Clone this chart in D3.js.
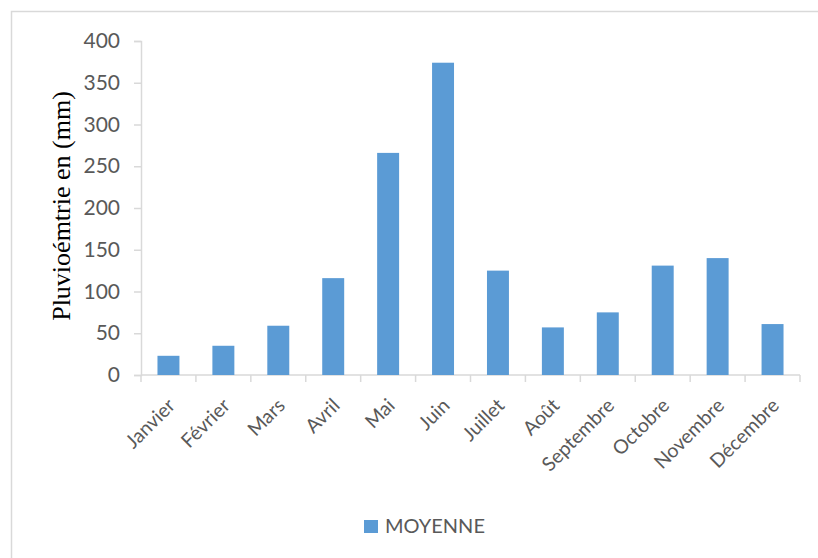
<!DOCTYPE html>
<html>
<head>
<meta charset="utf-8">
<script src="https://cdn.jsdelivr.net/npm/d3@7"></script>
<style>
  body { margin: 0; background: #fff; }
</style>
</head>
<body>
<div id="chart"></div>
<script>
const months = ["Janvier", "Février", "Mars", "Avril", "Mai", "Juin", "Juillet", "Août", "Septembre", "Octobre", "Novembre", "Décembre"];
const moyenne = [23, 35, 59, 116, 266, 374, 125, 57, 75, 131, 140, 61];
const yTicks = [0, 50, 100, 150, 200, 250, 300, 350, 400];
const seriesName = "MOYENNE";
const yLabel = "Pluvioémtrie en (mm)";

const W = 818, H = 558;
const margin = {top: 41, right: 18, bottom: 183, left: 141};
const width = W - margin.left - margin.right;
const height = H - margin.top - margin.bottom;
const barColor = "#5b9bd5";
const gridColor = "#d9d9d9";
const textColor = "#595959";
const sansFont = "Lato, Carlito, Calibri, sans-serif";

const svg = d3.select("#chart").append("svg")
    .attr("width", W)
    .attr("height", H);

// outer chart frame
svg.append("rect")
    .attr("x", 11.5).attr("y", 11.5)
    .attr("width", W + 10).attr("height", H + 10)
    .attr("fill", "none")
    .attr("stroke", gridColor)
    .attr("stroke-width", 1.5);

const g = svg.append("g")
    .attr("transform", "translate(" + margin.left + "," + margin.top + ")");

let xScale = d3.scaleBand().domain(months).range([0, width]).paddingInner(0.6).paddingOuter(0.3);
let yScale = d3.scaleLinear().domain([0, 400]).range([height, 0]);

// y axis
let yAxis = d3.axisLeft(yScale).tickValues(yTicks).tickSize(7).tickPadding(14);
let yG = g.append("g").attr("class", "y axis").call(yAxis);
yG.select(".domain").attr("stroke", gridColor).attr("stroke-width", 1.5);
yG.selectAll(".tick line").attr("stroke", gridColor).attr("stroke-width", 1.5);
yG.selectAll(".tick text")
    .attr("fill", textColor)
    .style("font-family", sansFont)
    .style("font-size", "21px");

// x axis: line + category boundary ticks
let xG = g.append("g").attr("class", "x axis")
    .attr("transform", "translate(0," + height + ")");
xG.append("line")
    .attr("x1", 0).attr("x2", width)
    .attr("stroke", gridColor).attr("stroke-width", 1.5);
let step = xScale.step();
xG.selectAll(".bound")
    .data(d3.range(months.length + 1))
  .enter().append("line")
    .attr("class", "bound")
    .attr("x1", function(i) { return i * step; })
    .attr("x2", function(i) { return i * step; })
    .attr("y1", 0).attr("y2", 7)
    .attr("stroke", gridColor).attr("stroke-width", 1.5);
xG.selectAll(".mlabel")
    .data(months)
  .enter().append("text")
    .attr("class", "mlabel")
    .attr("transform", function(d) {
      return "translate(" + (xScale(d) + xScale.bandwidth() / 2 + 3) + ",27) rotate(-45)";
    })
    .attr("text-anchor", "end")
    .attr("dy", "0.35em")
    .style("font-family", sansFont)
    .style("font-size", "19.5px")
    .attr("fill", textColor)
    .text(function(d) { return d; });

// bars
g.selectAll(".bar")
    .data(moyenne)
  .enter().append("rect")
    .attr("class", "bar")
    .attr("x", function(d, i) { return xScale(months[i]); })
    .attr("y", function(d) { return yScale(d); })
    .attr("width", xScale.bandwidth())
    .attr("height", function(d) { return height - yScale(d); })
    .attr("fill", barColor);

// y label
svg.append("text")
    .attr("transform", "translate(70,206) rotate(-90)")
    .attr("text-anchor", "middle")
    .style("font-family", "Liberation Serif, Times New Roman, serif")
    .style("font-size", "26px")
    .attr("fill", "#000")
    .text(yLabel);

// legend
let legend = svg.append("g").attr("transform", "translate(364,520)");
legend.append("rect").attr("width", 14).attr("height", 13).attr("fill", barColor);
legend.append("text")
    .attr("x", 21).attr("y", 13)
    .style("font-family", sansFont)
    .style("font-size", "20px")
    .attr("fill", textColor)
    .text(seriesName);
</script>
</body>
</html>
